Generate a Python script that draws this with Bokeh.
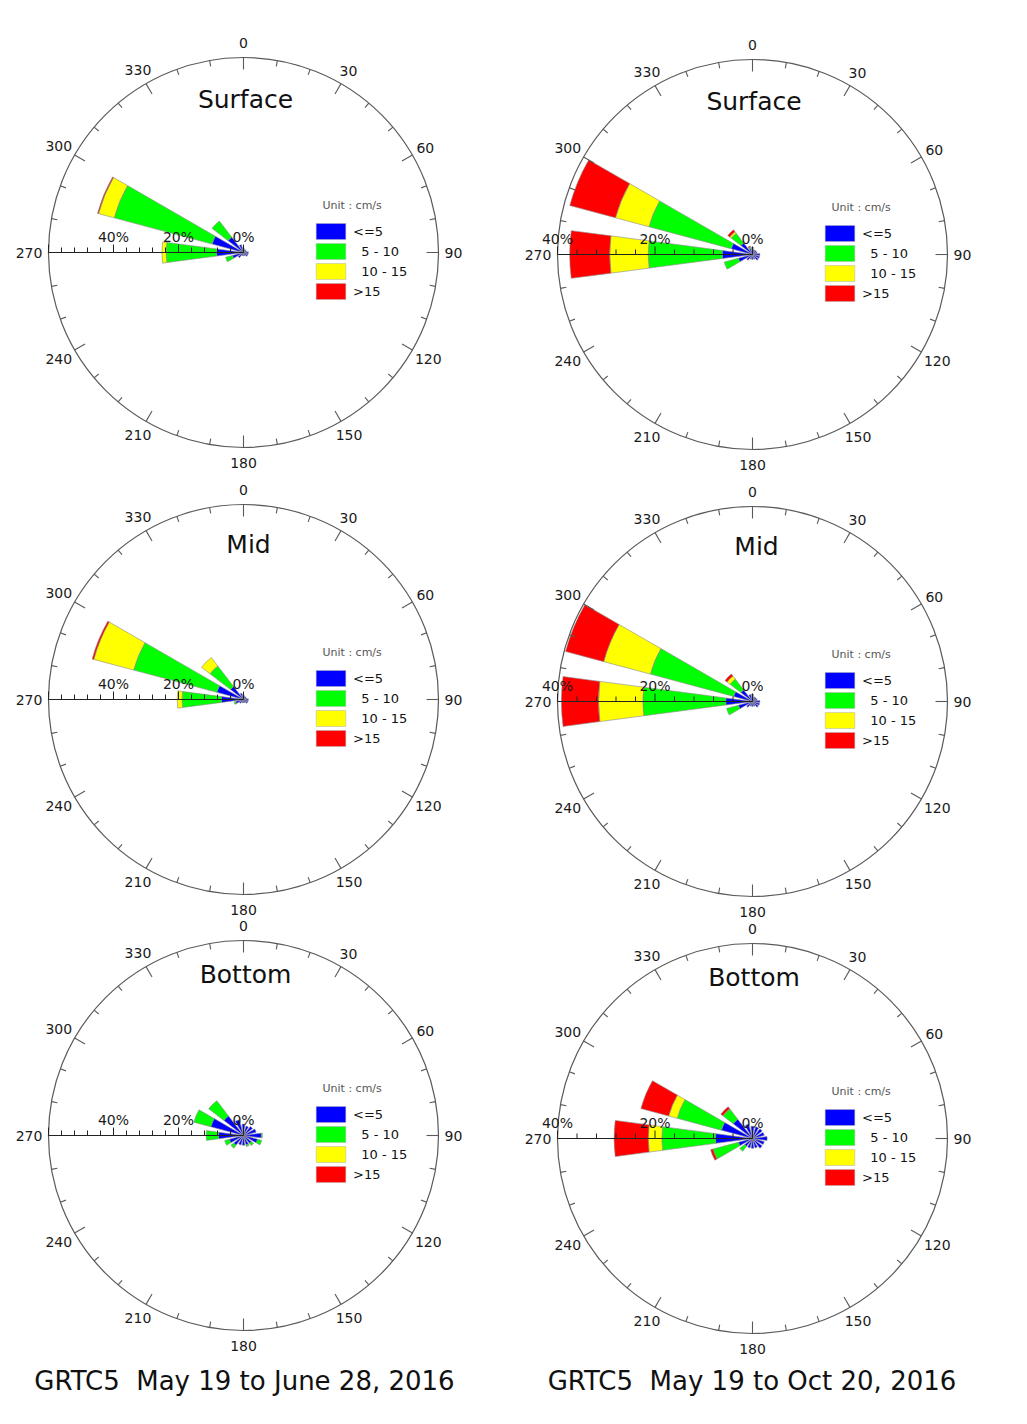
import math
from bokeh.plotting import figure
from bokeh.layouts import column, row
from bokeh.models import Range1d, Label, Legend, LegendItem, ColumnDataSource
from bokeh.embed import file_html
from bokeh.resources import INLINE
from bokeh.core.properties import value

# ---------------- data ----------------
directions = [0.0, 22.5, 45.0, 67.5, 90.0, 112.5, 135.0, 157.5,
              180.0, 202.5, 225.0, 247.5, 270.0, 292.5, 315.0, 337.5]
speed_labels = ["<=5", "\u00a0\u00a05 - 10", "\u00a0\u00a010 - 15", ">15"]
angle_labels = [0, 30, 60, 90, 120, 150, 180, 210, 240, 270, 300, 330]
pct_labels = [0, 20, 40]
captions = ["GRTC5\u00a0\u00a0May 19 to June 28, 2016",
            "GRTC5\u00a0\u00a0May 19 to Oct 20, 2016"]

# Surface, May 19 - June 28 (percent of records per speed class)
surf_jun_le5   = [1.5, 1.0, 1.0, 1.0, 1.5, 1.5, 1.5, 1.0, 1.0, 1.0, 2.0, 3.5, 8.3, 10.0, 6.0, 2.5]
surf_jun_5_10  = [0, 0, 0, 0, 0, 0, 0, 0, 0, 0, 0, 2.2, 15.5, 31.2, 6.2, 0]
surf_jun_10_15 = [0, 0, 0, 0, 0, 0, 0, 0, 0, 0, 0, 0, 1.3, 5.0, 0, 0]
surf_jun_gt15  = [0, 0, 0, 0, 0, 0, 0, 0, 0, 0, 0, 0, 0, 0.3, 0, 0]

# Surface, May 19 - Oct 20
surf_oct_le5   = [1.5, 1.0, 1.0, 1.0, 1.5, 1.5, 1.5, 1.0, 1.0, 1.0, 1.5, 3.0, 6.2, 4.5, 3.0, 1.2]
surf_oct_5_10  = [0, 0, 0, 0, 0, 0, 0, 0, 0, 0, 0, 3.0, 15.2, 17.5, 2.5, 0.3]
surf_oct_10_15 = [0, 0, 0, 0, 0, 0, 0, 0, 0, 0, 0, 0, 7.9, 7.1, 0.4, 0.1]
surf_oct_gt15  = [0, 0, 0, 0, 0, 0, 0, 0, 0, 0, 0, 0, 8.2, 9.7, 0.5, 0.2]

# Mid, May 19 - June 28
mid_jun_le5   = [1.5, 1.0, 1.0, 1.0, 1.5, 1.5, 1.5, 1.0, 1.0, 1.0, 1.5, 2.5, 6.8, 8.5, 5.0, 2.0]
mid_jun_5_10  = [0, 0, 0, 0, 0, 0, 0, 0, 0, 0, 0, 0.5, 12.1, 26.5, 8.0, 0]
mid_jun_10_15 = [0, 0, 0, 0, 0, 0, 0, 0, 0, 0, 0, 0, 1.5, 12.7, 3.3, 0]
mid_jun_gt15  = [0, 0, 0, 0, 0, 0, 0, 0, 0, 0, 0, 0, 0, 0.5, 0, 0]

# Mid, May 19 - Oct 20
mid_oct_le5   = [1.5, 1.0, 1.0, 1.0, 1.5, 1.5, 1.5, 1.0, 1.0, 1.0, 1.5, 3.0, 5.5, 4.0, 3.0, 1.5]
mid_oct_5_10  = [0, 0, 0, 0, 0, 0, 0, 0, 0, 0, 0, 2.5, 17.0, 17.7, 2.8, 0]
mid_oct_10_15 = [0, 0, 0, 0, 0, 0, 0, 0, 0, 0, 0, 0, 9.1, 9.9, 0.8, 0]
mid_oct_gt15  = [0, 0, 0, 0, 0, 0, 0, 0, 0, 0, 0, 0, 7.6, 8.1, 0.5, 0]

# Bottom, May 19 - June 28
bot_jun_le5   = [3.5, 3.0, 3.5, 4.0, 5.5, 4.5, 3.0, 3.0, 3.0, 3.0, 3.8, 4.5, 7.7, 10.4, 7.6, 5.0]
bot_jun_5_10  = [0, 0, 0, 0, 0.3, 1.3, 0.9, 0.5, 0, 0, 1.1, 1.5, 3.8, 5.4, 5.9, 0]
bot_jun_10_15 = [0, 0, 0, 0, 0, 0, 0, 0, 0, 0, 0, 0, 0, 0, 0, 0]
bot_jun_gt15  = [0, 0, 0, 0, 0, 0, 0, 0, 0, 0, 0, 0, 0, 0, 0, 0]

# Bottom, May 19 - Oct 20
bot_oct_le5   = [2.5, 2.5, 2.5, 2.5, 3.0, 2.5, 2.5, 2.0, 2.0, 2.0, 2.0, 3.0, 7.6, 6.6, 5.0, 3.0]
bot_oct_5_10  = [0, 0, 0, 0, 0, 0, 0, 0, 0, 0, 1.3, 5.4, 11.0, 9.4, 2.6, 0]
bot_oct_10_15 = [0, 0, 0, 0, 0, 0, 0, 0, 0, 0, 0, 0, 2.8, 1.8, 0.1, 0]
bot_oct_gt15  = [0, 0, 0, 0, 0, 0, 0, 0, 0, 0, 0, 0.5, 7.0, 5.9, 0.5, 0]

# ---------------- style ----------------
FONT = "DejaVu Sans"
COLORS = ["#0000FF", "#00FF00", "#FFFF00", "#FF0000"]
R_PX = 195.0       # circle radius in pixels
HALF_W = 7.5       # half width of a petal (degrees)


def make_panel(title, bins, rmax, W, H, cx, cy, title_dx, title_up, caption=None, cap_x=0):
    s = R_PX / rmax   # pixels per percent
    p = figure(width=W, height=H,
               x_range=Range1d(-cx / s, (W - cx) / s),
               y_range=Range1d(-(H - cy) / s, cy / s),
               output_backend="svg", toolbar_location=None,
               x_axis_location=None, y_axis_location=None,
               min_border=0, outline_line_color=None,
               background_fill_color="white", border_fill_color="white")
    p.xgrid.visible = False
    p.ygrid.visible = False

    # stacked petals
    base = [0.0] * len(directions)
    for k, vals in enumerate(bins):
        inner, outer, st, en = [], [], [], []
        for d, b, v in zip(directions, base, vals):
            if v > 0:
                inner.append(b)
                outer.append(b + v)
                st.append(math.radians(90 - d - HALF_W))
                en.append(math.radians(90 - d + HALF_W))
        base = [b + v for b, v in zip(base, vals)]
        src = ColumnDataSource(dict(x=[0.0] * len(inner), y=[0.0] * len(inner),
                                    inner=inner, outer=outer, start=st, end=en))
        p.annular_wedge(x="x", y="y", inner_radius="inner", outer_radius="outer",
                        start_angle="start", end_angle="end", source=src,
                        fill_color=COLORS[k], line_color="#8a8a8a", line_width=0.6)

    # outer circle
    p.circle(x=[0.0], y=[0.0], radius=rmax, fill_color=None,
             line_color="#5a5a5a", line_width=1.2)

    # ring ticks every 10 degrees
    tx0, ty0, tx1, ty1 = [], [], [], []
    for a in range(0, 360, 10):
        ln = 12.0 if a % 30 == 0 else 6.0
        t = math.radians(90 - a)
        r0 = rmax - ln / s
        tx0.append(r0 * math.cos(t)); ty0.append(r0 * math.sin(t))
        tx1.append(rmax * math.cos(t)); ty1.append(rmax * math.sin(t))
    p.segment(x0=tx0, y0=ty0, x1=tx1, y1=ty1, line_color="#5a5a5a", line_width=1.1)

    # ring labels
    lx, ly, lt = [], [], []
    for a in angle_labels:
        txt = str(a)
        w = len(txt) * 8.9
        t = math.radians(90 - a)
        rp = 210.0 + (w - 17.8) / 2.0 * math.sin(math.radians(a)) ** 2
        lx.append(rp / s * math.cos(t)); ly.append(rp / s * math.sin(t)); lt.append(txt)
    p.text(x=lx, y=ly, text=lt, text_font=value(FONT), text_font_size=value("14px"),
           text_align="center", text_baseline="middle", text_color="#1a1a1a")

    # radial scale along 270
    p.segment(x0=[0.0], y0=[0.0], x1=[-rmax], y1=[0.0], line_color="#222222", line_width=1.2)
    rx0, ry0, rx1, ry1 = [], [], [], []
    v = 0
    while v <= rmax + 1e-9:
        ln = 8.0 if v % 20 == 0 else 5.0
        rx0.append(-v); ry0.append(0.0); rx1.append(-v); ry1.append(ln / s)
        v += 4
    p.segment(x0=rx0, y0=ry0, x1=rx1, y1=ry1, line_color="#222222", line_width=1)
    p.text(x=[-v for v in pct_labels], y=[16.0 / s] * len(pct_labels),
           text=["%d%%" % v for v in pct_labels],
           text_font=value(FONT), text_font_size=value("14px"),
           text_align="center", text_baseline="middle", text_color="#1a1a1a")

    # title
    p.add_layout(Label(x=title_dx / s, y=title_up / s, text=title, text_font=FONT,
                       text_font_size="25px", text_align="center",
                       text_baseline="middle", text_color="#111111"))

    # legend (swatch renderers sit outside the visible range)
    items = []
    far = 1.0e6
    for k, lab in enumerate(speed_labels):
        r = p.quad(left=[far], right=[far], top=[far], bottom=[far], fill_color=COLORS[k],
                   line_color="#b0b0b0", line_width=0.5)
        items.append(LegendItem(label=lab, renderers=[r]))
    leg = Legend(items=items, location=(cx + 69, H - (cy + 49)),
                 title="\u00a0\u00a0\u00a0Unit : cm/s", title_text_font=FONT,
                 title_text_font_size="11px", title_text_color="#555555",
                 title_text_font_style="normal", title_standoff=9,
                 glyph_width=37, glyph_height=20, label_height=20, spacing=0,
                 label_standoff=4, label_text_font=FONT, label_text_font_size="13px",
                 label_text_color="#111111", padding=0, margin=0,
                 border_line_color=None, background_fill_alpha=0)
    p.add_layout(leg)

    if caption is not None:
        p.add_layout(Label(x=cap_x, y=44, x_units="screen", y_units="screen",
                           text=caption, text_font=FONT, text_font_size="26px",
                           text_align="center", text_baseline="middle",
                           text_color="#111111"))
    return p


p1 = make_panel("Surface", [surf_jun_le5, surf_jun_5_10, surf_jun_10_15, surf_jun_gt15],
                60, 513, 475, 243, 252, 2, 153)
p2 = make_panel("Surface", [surf_oct_le5, surf_oct_5_10, surf_oct_10_15, surf_oct_gt15],
                40, 514, 475, 239, 254, 1.5, 153)
p3 = make_panel("Mid", [mid_jun_le5, mid_jun_5_10, mid_jun_10_15, mid_jun_gt15],
                60, 513, 443, 243, 224, 5, 155)
p4 = make_panel("Mid", [mid_oct_le5, mid_oct_5_10, mid_oct_10_15, mid_oct_gt15],
                40, 514, 443, 239, 226, 4, 155)
p5 = make_panel("Bottom", [bot_jun_le5, bot_jun_5_10, bot_jun_10_15, bot_jun_gt15],
                60, 513, 506, 243, 217, 2, 161, caption=captions[0], cap_x=244)
p6 = make_panel("Bottom", [bot_oct_le5, bot_oct_5_10, bot_oct_10_15, bot_oct_gt15],
                40, 514, 506, 239, 220, 1.5, 161, caption=captions[1], cap_x=238.5)

layout = column(row(p1, p2), row(p3, p4), row(p5, p6))
open("out.html", "w").write(file_html(layout, INLINE))
